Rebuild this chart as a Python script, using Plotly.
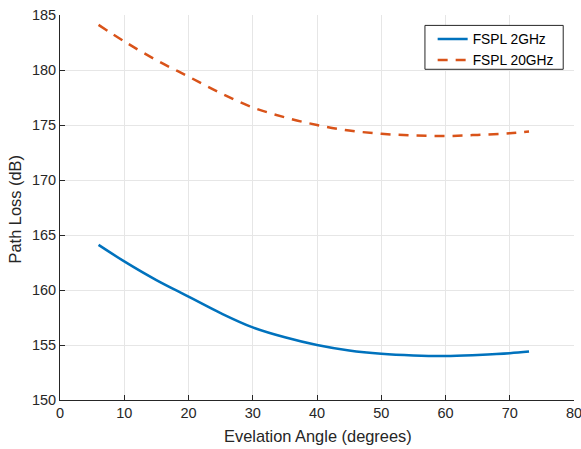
import plotly.graph_objects as go

elev = [6, 10, 15, 20, 25, 30, 35, 40, 45, 50, 55, 60, 65, 70, 73]
fspl_2ghz = [164.1, 162.6, 160.9, 159.4, 157.9, 156.6, 155.7, 155.0, 154.5, 154.2, 154.05, 154.0, 154.1, 154.25, 154.4]
fspl_20ghz = [v + 20 for v in fspl_2ghz]
x_ticks = [0, 10, 20, 30, 40, 50, 60, 70, 80]
y_ticks = [150, 155, 160, 165, 170, 175, 180, 185]

font = "Liberation Sans, Arial, sans-serif"
axis_col = "#262626"

fig = go.Figure()
fig.add_trace(go.Scatter(x=elev, y=fspl_2ghz, mode="lines", name="FSPL 2GHz",
                         line=dict(color="#0072BD", width=2.5, shape="spline")))
fig.add_trace(go.Scatter(x=elev, y=fspl_20ghz, mode="lines", name="FSPL 20GHz",
                         line=dict(color="#D95319", width=2.5, dash="10px,8px", shape="spline")))

# legend frame
fig.add_shape(type="rect", xref="paper", yref="paper",
              x0=0.710, x1=0.979, y0=0.859, y1=0.973,
              line=dict(color=axis_col, width=1), fillcolor="white", layer="above")

# axis titles
fig.add_annotation(text="Evelation Angle (degrees)", xref="paper", yref="paper",
                   x=0.502, y=-0.094, xanchor="center", yanchor="middle",
                   showarrow=False, font=dict(size=16.4, color=axis_col))
fig.add_annotation(text="Path Loss (dB)", xref="paper", yref="paper",
                   x=-0.0875, y=0.495, xanchor="center", yanchor="middle", textangle=-90,
                   showarrow=False, font=dict(size=16.4, color=axis_col))

fig.update_layout(
    width=581, height=449,
    margin=dict(l=60, r=7, t=15, b=49),
    paper_bgcolor="white", plot_bgcolor="white",
    font=dict(family=font, size=14.5, color=axis_col),
    legend=dict(x=0.725, y=0.978, xanchor="left", yanchor="top",
                bgcolor="rgba(0,0,0,0)", borderwidth=0,
                font=dict(size=13.8, color="black"), tracegroupgap=0),
    showlegend=True,
)
fig.update_xaxes(range=[0, 80], tickvals=x_ticks, ticktext=[str(v) for v in x_ticks],
                 showgrid=True, gridcolor="#e6e6e6", gridwidth=1,
                 showline=True, linecolor=axis_col, linewidth=1,
                 ticks="inside", ticklen=5, tickcolor=axis_col,
                 zeroline=False, automargin=False, ticklabeloverflow="allow")
fig.update_yaxes(range=[150, 185], tickvals=y_ticks, ticktext=[str(v) for v in y_ticks],
                 showgrid=True, gridcolor="#e6e6e6", gridwidth=1,
                 showline=True, linecolor=axis_col, linewidth=1,
                 ticks="inside", ticklen=5, tickcolor=axis_col,
                 zeroline=False, automargin=False, ticklabeloverflow="allow")

fig.write_html("out.html", config={"displayModeBar": False},
               post_script="document.body.style.margin='0';document.body.style.overflow='hidden';")
